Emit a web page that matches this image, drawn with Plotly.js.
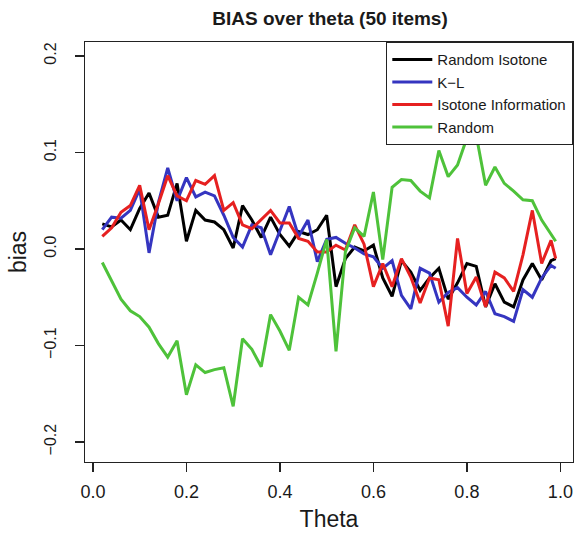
<!DOCTYPE html>
<html>
<head>
<meta charset="utf-8">
<script src="https://cdn.plot.ly/plotly-3.0.1.min.js"></script>
<style>html,body{margin:0;padding:0;background:#fff}#chart{width:578px;height:534px}</style>
</head>
<body>
<div id="chart"></div>
<script>
var theta = [0.02,0.04,0.06,0.08,0.10,0.12,0.14,0.16,0.18,0.20,
             0.22,0.24,0.26,0.28,0.30,0.32,0.34,0.36,0.38,0.40,
             0.42,0.44,0.46,0.48,0.50,0.52,0.54,0.56,0.58,0.60,
             0.62,0.64,0.66,0.68,0.70,0.72,0.74,0.76,0.78,0.80,
             0.82,0.84,0.86,0.88,0.90,0.92,0.94,0.96,0.98,0.99];

var randomIsotone = [0.026,0.023,0.030,0.020,0.042,0.058,0.033,0.035,0.068,0.008,
                     0.040,0.030,0.028,0.020,0.001,0.045,0.030,0.012,0.033,0.015,
                     0.003,0.018,0.015,0.020,0.035,-0.039,-0.010,0.002,-0.002,0.004,
                     -0.030,-0.049,-0.012,-0.024,-0.043,-0.030,-0.020,-0.052,-0.035,-0.015,
                     -0.018,-0.060,-0.036,-0.055,-0.060,-0.032,-0.015,-0.032,-0.012,-0.010];

var kl = [0.020,0.033,0.032,0.040,0.062,-0.004,0.048,0.084,0.050,0.074,
          0.054,0.059,0.055,0.035,0.012,0.002,0.025,0.022,-0.006,0.020,
          0.044,0.013,0.030,-0.013,0.010,0.012,0.006,0.001,-0.005,-0.008,
          -0.020,-0.012,-0.048,-0.062,-0.020,-0.025,-0.055,-0.045,-0.040,-0.050,
          -0.058,-0.044,-0.067,-0.070,-0.075,-0.042,-0.050,-0.030,-0.017,-0.020];

var isotoneInfo = [0.013,0.022,0.038,0.045,0.066,0.020,0.047,0.076,0.055,0.050,
                   0.071,0.067,0.076,0.040,0.048,0.025,0.021,0.030,0.040,0.027,
                   0.027,0.011,0.008,-0.003,-0.003,0.004,-0.001,0.025,0.005,-0.039,
                   -0.015,-0.039,-0.010,-0.029,-0.056,-0.030,-0.032,-0.080,0.011,-0.046,
                   -0.029,-0.060,-0.024,-0.030,-0.044,-0.006,0.040,-0.015,0.009,-0.010];

var randomSel = [-0.014,-0.033,-0.052,-0.064,-0.070,-0.081,-0.098,-0.112,-0.095,-0.151,
                 -0.120,-0.128,-0.125,-0.123,-0.163,-0.093,-0.104,-0.122,-0.068,-0.085,
                 -0.105,-0.050,-0.058,-0.025,0.010,-0.106,-0.003,0.022,0.013,0.059,
                 -0.011,0.064,0.072,0.071,0.060,0.053,0.102,0.075,0.087,0.115,
                 0.118,0.066,0.085,0.068,0.060,0.051,0.050,0.030,0.015,0.008];

var seriesNames = ['Random Isotone','K\u2212L','Isotone Information','Random'];
var seriesColors = ['#000000','#3535c0','#e62020','#4ec23a'];
var seriesData = [randomIsotone, kl, isotoneInfo, randomSel];

var traces = seriesData.map(function(d,i){
  return {x: theta, y: d, type:'scatter', mode:'lines', name: seriesNames[i],
          line:{color: seriesColors[i], width: 3}};
});

var font = 'Liberation Sans, Arial, sans-serif';
var txt = '#1a1a1a';
var layout = {
  width: 578, height: 534,
  margin: {l:85, r:5, t:42, b:72},
  paper_bgcolor:'#fff', plot_bgcolor:'#fff',
  font: {family: font, color: txt, size:16},
  title: {text:'<b>BIAS over theta (50 items)</b>', x:0.571, xanchor:'center', y:0.966, yanchor:'middle',
          font:{family: font, size:19, color: txt}},
  xaxis: {range:[-0.017,1.027], tickvals:[0,0.2,0.4,0.6,0.8,1.0], ticktext:['0.0','0.2','0.4','0.6','0.8','1.0'],
          showgrid:false, zeroline:false, showline:true, mirror:true, linecolor:'#222', linewidth:1.3,
          ticks:'outside', ticklen:9, tickcolor:'#222', tickwidth:1.3, ticklabelstandoff:4,
          tickfont:{size:18, color: txt},
          title:{text:'Theta', font:{size:23, color: txt}, standoff:10}},
  yaxis: {range:[-0.2207,0.2145], tickvals:[-0.2,-0.1,0,0.1,0.2], ticktext:['\u22120.2','\u22120.1','0.0','0.1','0.2'],
          tickangle:-90, showgrid:false, zeroline:false, showline:true, mirror:true, linecolor:'#222', linewidth:1.3,
          ticks:'outside', ticklen:9, tickcolor:'#222', tickwidth:1.3, ticklabelstandoff:12,
          tickfont:{size:16, color: txt},
          title:{text:'bias', font:{size:23, color: txt}, standoff:9}},
  legend: {x:1, xanchor:'right', y:1, yanchor:'top', bgcolor:'#fff', bordercolor:'#222', borderwidth:1.3,
           font:{size:15, color: txt}, tracegroupgap:0, itemwidth:40},
  showlegend: true
};

Plotly.newPlot('chart', traces, layout, {displayModeBar:false, staticPlot:true});
</script>
</body>
</html>
